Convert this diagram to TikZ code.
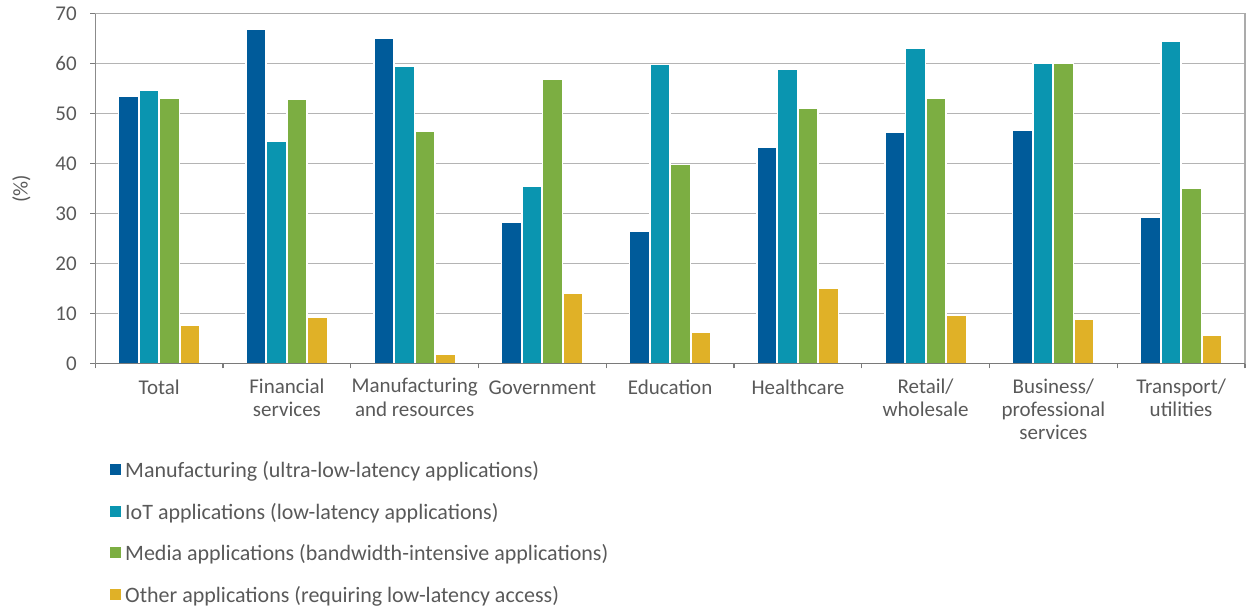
\documentclass[tikz,border=0pt]{standalone}
\usepackage{fontspec}
\setmainfont{Carlito}
\usepackage{tikz}
\usepackage{pgfplots}
\definecolor{mfgblue}{HTML}{005B9A}
\definecolor{iotteal}{HTML}{0A95B0}
\definecolor{mediagreen}{HTML}{7CAE42}
\definecolor{otheryellow}{HTML}{E0B127}
\definecolor{labelgray}{HTML}{595959}
\definecolor{gridgray}{HTML}{B4B4B4}
\definecolor{framegray}{HTML}{ABABAB}
\definecolor{axisgray}{HTML}{7A7A7A}
\newcommand{\chartfont}{\fontsize{21bp}{23.3bp}\selectfont}
\newcommand{\legendfont}{\fontsize{22bp}{24bp}\selectfont}
\pgfplotscreateplotcyclelist{appcolours}{
    {fill=mfgblue,draw=white},
    {fill=iotteal,draw=white},
    {fill=mediagreen,draw=white},
    {fill=otheryellow,draw=white}%
}
\pgfplotsset{
    compat=1.18,
    bar cycle list/.style={cycle list name=appcolours},
    every axis/.append style={
        scale only axis,
        ymin=0,
        enlargelimits=false,
        tick label style={font=\chartfont, text=labelgray},
        label style={font=\chartfont, text=labelgray},
        every axis plot/.append style={line width=1.5bp}
    }
}
\tikzset{
    legsq/.style={fill=#1, minimum size=11bp, inner sep=0pt},
    legtext/.style={font=\legendfont, text=labelgray, anchor=base west, inner sep=0pt}
}

\begin{document}
\begin{tikzpicture}
    \useasboundingbox (0,0) rectangle (1247bp,-607bp);
    \begin{axis}[
        at={(95.3bp,-363.3bp)}, anchor=south west,
        width=1149.7bp, height=349.6bp,
        xmin=0.5, xmax=9.5, ymax=70,
        ybar=0.5bp, bar width=20bp,
        ytick={0,10,...,70},
        yticklabels={0,10,20,30,40,50,60,70},
        yticklabel style={xshift=-10bp},
        xtick={1,...,9},
        xticklabels={Total, {Financial\\services}, {Manufacturing\\and resources},
            Government, Education, Healthcare, {Retail/\\wholesale},
            {Business/\\professional\\services}, {Transport/\\utilities}},
        xticklabel style={align=center, anchor=north, inner sep=0pt,
            execute at begin node=\strut, yshift=-10bp},
        minor xtick={0.5,1.5,...,9.5},
        tick pos=left, tick align=outside,
        major tick length=5bp, minor tick length=5bp,
        tick style={draw=axisgray, line width=1.2bp},
        major x tick style={draw=none},
        ymajorgrids,
        grid style={draw=gridgray, line width=0.9bp},
        axis line style={draw=framegray, line width=1.3bp},
        ylabel={(\%)},
        ylabel style={at={(axis description cs:-0.0642,0.5)}, anchor=center},
    ]
    \addplot coordinates {(1,53.5) (2,66.8) (3,65.0) (4,28.3) (5,26.5) (6,43.3) (7,46.3) (8,46.7) (9,29.2)};
    \addplot coordinates {(1,54.6) (2,44.5) (3,59.5) (4,35.5) (5,59.8) (6,58.8) (7,63.1) (8,60.0) (9,64.5)};
    \addplot coordinates {(1,53.1) (2,52.9) (3,46.5) (4,56.9) (5,39.8) (6,51.1) (7,53.1) (8,60.0) (9,35.1)};
    \addplot coordinates {(1,7.7) (2,9.3) (3,1.9) (4,14.1) (5,6.3) (6,15.1) (7,9.7) (8,8.9) (9,5.6)};
    \draw[axisgray, line width=1.3bp] (rel axis cs:0,1) -- (rel axis cs:0,0) -- (rel axis cs:1,0);
    \end{axis}
    \node[legsq=mfgblue] (sqmfg) at (115.5bp,-469.5bp) {};
    \node[legtext] (txtmfg) at (125bp,-477.5bp) {Manufacturing (ultra-low-latency applications)};
    \node[legsq=iotteal] (sqiot) at (115.5bp,-511bp) {};
    \node[legtext] (txtiot) at (125bp,-519bp) {IoT applications (low-latency applications)};
    \node[legsq=mediagreen] (sqmedia) at (115.5bp,-552.5bp) {};
    \node[legtext] (txtmedia) at (125bp,-560.5bp) {Media applications (bandwidth-intensive applications)};
    \node[legsq=otheryellow] (sqother) at (115.5bp,-594bp) {};
    \node[legtext] (txtother) at (125bp,-602bp) {Other applications (requiring low-latency access)};
\end{tikzpicture}
\end{document}
